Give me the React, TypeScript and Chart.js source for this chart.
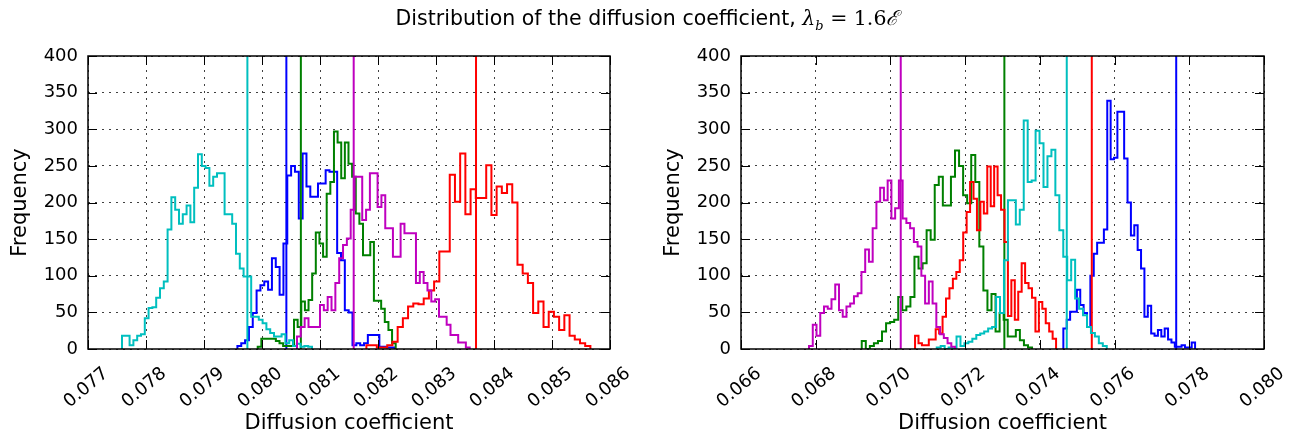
import React, { useEffect, useRef } from "react";
import { Chart, registerables } from "chart.js";

Chart.register(...registerables);

// ---------- tick labels ----------
const leftXTicks = [0.077, 0.078, 0.079, 0.08, 0.081, 0.082, 0.083, 0.084, 0.085, 0.086];
const rightXTicks = [0.066, 0.068, 0.07, 0.072, 0.074, 0.076, 0.078, 0.08];
const yTicks = [0, 50, 100, 150, 200, 250, 300, 350, 400];

// ---------- left panel histograms: [first edge, last edge] and bin counts ----------
const leftBlueRange = [0.079576, 0.082288];
const leftBlueCounts = [4, 8, 12, 30, 49, 80, 87, 92, 81, 124, 112, 74, 144, 237, 250, 242, 178, 267, 222, 208, 208, 226, 226, 244, 242, 242, 131, 121, 53, 50, 5, 8, 5, 8, 19, 19, 19, 3, 3, 2, 2];

const leftGreenRange = [0.079926, 0.082305];
const leftGreenCounts = [3, 14, 14, 14, 14, 11, 8, 4, 4, 4, 40, 30, 65, 53, 67, 103, 159, 144, 126, 212, 228, 297, 282, 233, 282, 253, 235, 185, 171, 128, 128, 146, 66, 66, 55, 37, 26, 8];

const leftRedRange = [0.0818, 0.085662];
const leftRedCounts = [5, 5, 2, 2, 5, 10, 30, 42, 58, 62, 61, 69, 80, 92, 133, 133, 238, 201, 267, 184, 218, 206, 206, 251, 183, 222, 213, 225, 200, 115, 103, 90, 49, 65, 30, 51, 44, 26, 46, 18, 13, 8, 4];

const leftCyanRange = [0.077586, 0.080862];
const leftCyanCounts = [18, 18, 5, 12, 18, 20, 42, 56, 57, 70, 83, 92, 163, 207, 190, 171, 184, 196, 173, 220, 266, 250, 247, 223, 235, 240, 240, 184, 184, 171, 130, 110, 99, 99, 44, 44, 40, 35, 27, 22, 17, 17, 20, 8, 12, 4, 7, 3, 4, 3];

const leftMagentaRange = [0.080603, 0.083581];
const leftMagentaCounts = [17, 30, 42, 30, 30, 30, 60, 53, 71, 53, 90, 124, 142, 151, 190, 235, 235, 176, 190, 240, 240, 194, 210, 165, 165, 126, 126, 171, 158, 158, 158, 90, 105, 90, 80, 65, 68, 44, 44, 33, 19, 19, 9, 9, 2];

// vertical lines (left): blue, green, red, cyan, magenta
const leftMeans = [0.08042, 0.08067, 0.08369, 0.079748, 0.081581];

// ---------- right panel histograms ----------
const rightBlueRange = [0.074629, 0.078155];
const rightBlueCounts = [28, 40, 51, 51, 81, 60, 49, 30, 100, 130, 145, 145, 163, 339, 259, 261, 324, 324, 260, 200, 155, 169, 135, 110, 44, 59, 21, 18, 26, 17, 28, 13, 9, 3, 3, 5, 2, 2, 9];

const rightGreenRange = [0.069232, 0.073791];
const rightGreenCounts = [11, 0, 4, 8, 11, 24, 35, 37, 40, 71, 53, 58, 71, 126, 110, 117, 162, 149, 224, 235, 196, 196, 235, 271, 250, 210, 199, 265, 228, 140, 80, 53, 75, 24, 49, 40, 17, 17, 26, 12, 5, 2];

const rightRedRange = [0.070659, 0.074434];
const rightRedCounts = [18, 8, 5, 5, 13, 13, 27, 21, 44, 69, 83, 96, 105, 121, 159, 187, 228, 205, 162, 201, 185, 249, 195, 249, 210, 190, 146, 45, 94, 40, 78, 117, 90, 83, 70, 24, 64, 55, 35, 24, 14];

const rightCyanRange = [0.07124, 0.075791];
const rightCyanCounts = [2, 4, 0, 2, 0, 17, 4, 8, 10, 14, 19, 21, 24, 28, 30, 71, 49, 121, 203, 203, 170, 190, 312, 228, 230, 298, 281, 221, 263, 272, 210, 162, 126, 94, 122, 69, 55, 46, 30, 22, 17, 8, 4];

const rightMagentaRange = [0.067821, 0.07173];
const rightMagentaCounts = [4, 33, 18, 49, 58, 55, 68, 88, 53, 44, 58, 62, 72, 76, 105, 136, 119, 165, 201, 220, 203, 230, 178, 192, 230, 178, 172, 165, 146, 140, 100, 62, 92, 62, 30, 20, 15, 8, 3];

// vertical lines (right): blue, green, red, cyan, magenta
const rightMeans = [0.07765, 0.07305, 0.07539, 0.07472, 0.070276];

const seriesColors = ["#0000ff", "#008000", "#ff0000", "#00bfbf", "#bf00bf"];

const FONT = "'DejaVu Sans', 'Liberation Sans', sans-serif";

function histPoints(range: number[], counts: number[]) {
  const start = range[0];
  const end = range[1];
  const w = (end - start) / counts.length;
  const pts: { x: number; y: number }[] = [{ x: start, y: 0 }];
  counts.forEach((c, i) => pts.push({ x: start + i * w, y: c }));
  pts.push({ x: end, y: 0 });
  return pts;
}

const framePlugin = {
  id: "frameTicks",
  afterDatasetsDraw(chart: any) {
    const { ctx, chartArea, scales } = chart;
    const { left, right, top, bottom } = chartArea;
    ctx.save();
    ctx.setLineDash([]);
    ctx.strokeStyle = "#000";
    ctx.lineWidth = 1;
    const tl = 9;
    ctx.beginPath();
    scales.x.ticks.forEach((t: any) => {
      const px = Math.round(scales.x.getPixelForValue(t.value)) + 0.5;
      ctx.moveTo(px, bottom);
      ctx.lineTo(px, bottom - tl);
      ctx.moveTo(px, top);
      ctx.lineTo(px, top + tl);
    });
    scales.y.ticks.forEach((t: any) => {
      const py = Math.round(scales.y.getPixelForValue(t.value)) + 0.5;
      ctx.moveTo(left, py);
      ctx.lineTo(left + tl, py);
      ctx.moveTo(right, py);
      ctx.lineTo(right - tl, py);
    });
    ctx.stroke();
    ctx.lineWidth = 1.5;
    ctx.strokeRect(left, top, right - left, bottom - top);
    ctx.restore();
  },
};

function makeConfig(opts: {
  hists: { range: number[]; counts: number[] }[];
  means: number[];
  xMin: number;
  xMax: number;
  xTicks: number[];
  yWidth: number;
  padRight: number;
  yTitlePad: number;
}) {
  const datasets: any[] = [];
  // matplotlib draws b, g, r, c, m in order; Chart.js draws index 0 last (on top)
  for (let i = opts.hists.length - 1; i >= 0; i--) {
    const color = seriesColors[i];
    datasets.push({
      data: [
        { x: opts.means[i], y: 0 },
        { x: opts.means[i], y: 400 },
      ],
      borderColor: color,
      borderWidth: 2,
      pointRadius: 0,
      fill: false,
    });
    datasets.push({
      data: histPoints(opts.hists[i].range, opts.hists[i].counts),
      borderColor: color,
      borderWidth: 2,
      pointRadius: 0,
      fill: false,
      stepped: "before",
    });
  }
  const gridColor = "rgba(0,0,0,0.75)";
  return {
    type: "line",
    data: { datasets },
    plugins: [framePlugin],
    options: {
      animation: false,
      responsive: false,
      devicePixelRatio: 1,
      layout: { padding: { top: 56, right: opts.padRight, bottom: 0, left: 0 } },
      plugins: { legend: { display: false }, tooltip: { enabled: false }, title: { display: false } },
      elements: { line: { tension: 0, borderCapStyle: "butt", borderJoinStyle: "miter" } },
      scales: {
        x: {
          type: "linear",
          min: opts.xMin,
          max: opts.xMax,
          afterBuildTicks: (s: any) => {
            s.ticks = opts.xTicks.map((v) => ({ value: v }));
          },
          afterFit: (s: any) => {
            s.height = 89;
          },
          ticks: {
            autoSkip: false,
            minRotation: 40,
            maxRotation: 40,
            padding: 14,
            labelOffset: 18,
            color: "#000",
            font: { family: FONT, size: 18 },
            callback: (v: any) => Number(v).toFixed(3),
          },
          grid: { color: gridColor, lineWidth: 1, drawTicks: false },
          border: { display: false, dash: [2, 5] },
          title: {
            display: true,
            text: "Diffusion coefficient",
            color: "#000",
            font: { family: FONT, size: 21 },
            padding: { top: 0, bottom: 2 },
          },
        },
        y: {
          type: "linear",
          min: 0,
          max: 400,
          afterBuildTicks: (s: any) => {
            s.ticks = yTicks.map((v) => ({ value: v }));
          },
          afterFit: (s: any) => {
            s.width = opts.yWidth;
          },
          ticks: { padding: 10, color: "#000", font: { family: FONT, size: 18 } },
          grid: { color: gridColor, lineWidth: 1, drawTicks: false },
          border: { display: false, dash: [2, 5] },
          title: {
            display: true,
            text: "Frequency",
            color: "#000",
            font: { family: FONT, size: 21 },
            padding: { top: opts.yTitlePad, bottom: 0 },
          },
        },
      },
    },
  } as any;
}

export default function App() {
  const leftRef = useRef<HTMLCanvasElement>(null);
  const rightRef = useRef<HTMLCanvasElement>(null);

  useEffect(() => {
    const left = new Chart(
      leftRef.current as HTMLCanvasElement,
      makeConfig({
        hists: [
          { range: leftBlueRange, counts: leftBlueCounts },
          { range: leftGreenRange, counts: leftGreenCounts },
          { range: leftRedRange, counts: leftRedCounts },
          { range: leftCyanRange, counts: leftCyanCounts },
          { range: leftMagentaRange, counts: leftMagentaCounts },
        ],
        means: leftMeans,
        xMin: leftXTicks[0],
        xMax: leftXTicks[leftXTicks.length - 1],
        xTicks: leftXTicks,
        yWidth: 88,
        padRight: 40,
        yTitlePad: 8,
      })
    );
    const right = new Chart(
      rightRef.current as HTMLCanvasElement,
      makeConfig({
        hists: [
          { range: rightBlueRange, counts: rightBlueCounts },
          { range: rightGreenRange, counts: rightGreenCounts },
          { range: rightRedRange, counts: rightRedCounts },
          { range: rightCyanRange, counts: rightCyanCounts },
          { range: rightMagentaRange, counts: rightMagentaCounts },
        ],
        means: rightMeans,
        xMin: rightXTicks[0],
        xMax: rightXTicks[rightXTicks.length - 1],
        xTicks: rightXTicks,
        yWidth: 91,
        padRight: 37,
        yTitlePad: 11,
      })
    );
    return () => {
      left.destroy();
      right.destroy();
    };
  }, []);

  return (
    <div
      style={{
        position: "fixed",
        left: 0,
        top: 0,
        width: 1301,
        height: 438,
        background: "#fff",
        overflow: "hidden",
      }}
    >
      <canvas
        ref={leftRef}
        width={650}
        height={438}
        style={{ position: "absolute", left: 0, top: 0, width: 650, height: 438 }}
      />
      <canvas
        ref={rightRef}
        width={651}
        height={438}
        style={{ position: "absolute", left: 650, top: 0, width: 651, height: 438 }}
      />
      <div
        style={{
          position: "absolute",
          left: 0,
          top: 5,
          width: 1294,
          textAlign: "center",
          fontFamily: FONT,
          fontSize: 20.5,
          lineHeight: "26px",
          color: "#000",
          whiteSpace: "nowrap",
        }}
      >
        Distribution of the diffusion coefficient,{" "}
        <span style={{ fontFamily: "'DejaVu Serif', serif" }}>
          <i>λ</i>
          <sub style={{ fontSize: 13, lineHeight: 0 }}>
            <i>b</i>
          </sub>
          {" = 1.6"}
          <i>ℰ</i>
        </span>
      </div>
    </div>
  );
}
